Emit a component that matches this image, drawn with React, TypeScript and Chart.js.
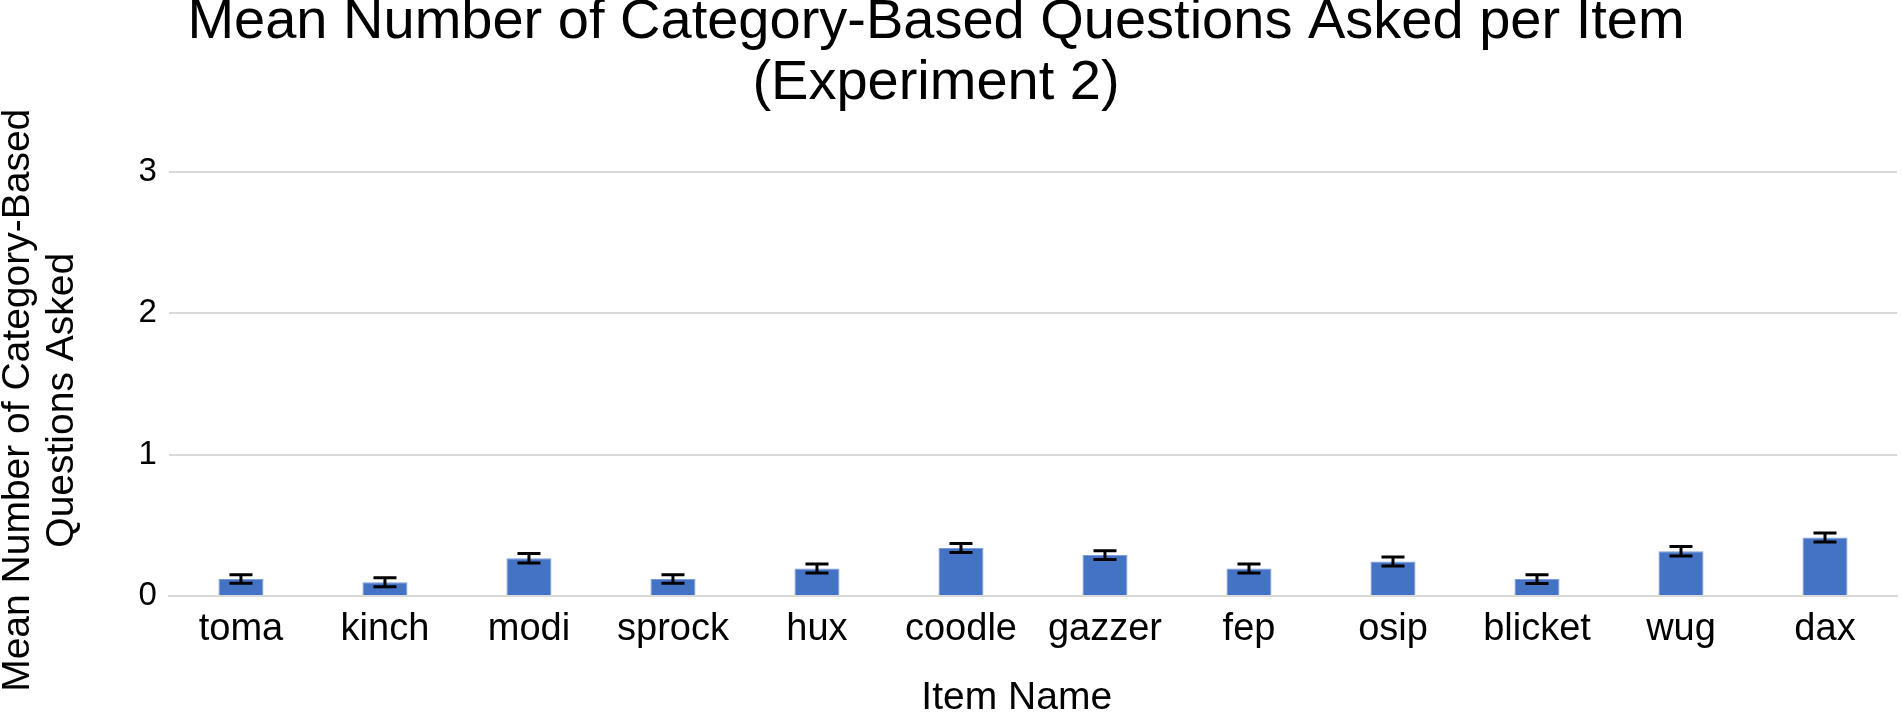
import React, { useEffect, useRef } from "react";
import { Chart, registerables } from "chart.js";

Chart.register(...registerables);

const categories = ["toma", "kinch", "modi", "sprock", "hux", "coodle", "gazzer", "fep", "osip", "blicket", "wug", "dax"];
const meanValues = [0.12, 0.097, 0.267, 0.12, 0.194, 0.34, 0.29, 0.194, 0.244, 0.12, 0.317, 0.414];
const errorValues = [0.03, 0.032, 0.034, 0.03, 0.032, 0.032, 0.031, 0.032, 0.032, 0.031, 0.034, 0.032];
const titleLines = ["Mean Number of Category-Based Questions Asked per Item", "(Experiment 2)"];
const yTitleLines = ["Mean Number of Category-Based   ", "Questions Asked   "];
const xTitle = "Item Name   ";

const FONT = "'Liberation Sans', Arial, Helvetica, sans-serif";

const errorBarPlugin = {
  id: "errorBars",
  afterDatasetsDraw(chart: any) {
    const ctx = chart.ctx;
    const meta = chart.getDatasetMeta(0);
    const yScale = chart.scales.y;
    ctx.save();
    ctx.strokeStyle = "#000000";
    ctx.lineWidth = 3;
    meta.data.forEach((bar: any, i: number) => {
      const v = meanValues[i];
      const e = errorValues[i];
      const x = bar.x;
      const yTop = yScale.getPixelForValue(v + e);
      const yBot = yScale.getPixelForValue(v - e);
      const half = 11.5;
      ctx.beginPath();
      ctx.moveTo(x, yTop);
      ctx.lineTo(x, yBot);
      ctx.moveTo(x - half, yTop);
      ctx.lineTo(x + half, yTop);
      ctx.moveTo(x - half, yBot);
      ctx.lineTo(x + half, yBot);
      ctx.stroke();
    });
    ctx.restore();
  },
};

export default function App() {
  const canvasRef = useRef<HTMLCanvasElement | null>(null);

  useEffect(() => {
    if (!canvasRef.current) return;
    const chart = new Chart(canvasRef.current, {
      type: "bar",
      data: {
        labels: categories,
        datasets: [
          {
            data: meanValues,
            backgroundColor: "#4472C4",
            borderColor: "#7c9bd6",
            borderWidth: 1,
            categoryPercentage: 1,
            barPercentage: 0.3125,
          },
        ],
      },
      options: {
        animation: false,
        responsive: true,
        maintainAspectRatio: false,
        layout: { padding: { left: -25, right: 5, top: 0, bottom: 0 } },
        plugins: {
          legend: { display: false },
          tooltip: { enabled: false },
          title: {
            display: true,
            text: titleLines,
            color: "#000000",
            font: { family: FONT, size: 56, weight: "normal", lineHeight: 1.09 },
            padding: { top: -8, bottom: 58 },
          },
        },
        scales: {
          x: {
            grid: { display: false, drawTicks: false },
            border: { display: true, color: "#d9d9d9", width: 2 },
            ticks: {
              color: "#000000",
              font: { family: FONT, size: 38, lineHeight: 1.2 },
              padding: 11,
              maxRotation: 0,
              autoSkip: false,
            },
            title: {
              display: true,
              text: xTitle,
              color: "#000000",
              font: { family: FONT, size: 39, lineHeight: 1.0 },
              padding: { top: 15.4, bottom: 0 },
            },
          },
          y: {
            min: 0,
            max: 3,
            grid: { color: "#d9d9d9", lineWidth: 2, drawTicks: false },
            border: { display: false },
            ticks: {
              stepSize: 1,
              color: "#000000",
              font: { family: FONT, size: 33, lineHeight: 1.2 },
              padding: 12,
            },
            title: {
              display: true,
              text: yTitleLines,
              color: "#000000",
              font: { family: FONT, size: 39, lineHeight: 44 / 39 },
              padding: { top: 21, bottom: 42.6 },
            },
          },
        },
      },
      plugins: [errorBarPlugin],
    });
    return () => chart.destroy();
  }, []);

  return (
    <div style={{ position: "absolute", left: 0, top: 0, width: 1902, height: 718, overflow: "hidden", background: "#ffffff" }}>
      <div style={{ position: "relative", width: 1902, height: 718 }}>
        <canvas ref={canvasRef} />
      </div>
    </div>
  );
}
